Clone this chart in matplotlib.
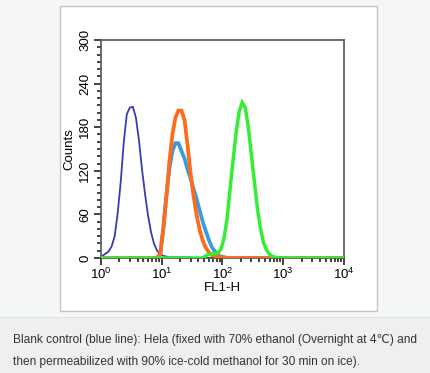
import numpy as np
import matplotlib
matplotlib.use('Agg')
import matplotlib.pyplot as plt
from matplotlib.patches import Rectangle
from matplotlib.ticker import LogLocator, MultipleLocator

plt.rcParams['font.family'] = ['Liberation Sans', 'DejaVu Sans']

# FL1-H histograms: 20 channels per decade over 10^0 .. 10^4 (80 channels).
# each series = first channel + counts from there on (rest of channels are 0)
channels_per_decade = 20
n_channels = 80

blank_start = 0
blank = [3, 6, 9, 16, 30, 62, 105, 160, 198, 207, 208, 193, 162, 122, 88, 58,
         35, 19, 10, 5, 3, 2, 1, 1, 1, 1, 1, 1, 1, 1]

sample_a_start = 19   # light blue
sample_a = [5, 40, 85, 122, 147, 158, 158, 147, 137, 122, 109, 95, 81, 65, 50,
            37, 25, 15, 9, 4, 2, 1]

sample_b_start = 18   # orange
sample_b = [1, 5, 40, 83, 132, 170, 193, 203, 203, 190, 155, 116, 84, 59, 38,
            24, 14, 8, 4, 3, 2, 1, 1]

sample_c_start = 34   # green
sample_c = [3, 5, 6, 6, 7, 12, 27, 54, 95, 135, 173, 202, 214, 207, 180, 142,
            105, 68, 41, 21, 11, 5, 2, 1]

caption_lines = ["Blank control (blue line): Hela (fixed with 70% ethanol (Overnight at 4\u2103) and",
                 "then permeabilized with 90% ice-cold methanol for 30 min on ice)."]

centers = 10 ** ((np.arange(n_channels) + 0.5) / channels_per_decade)
xs = np.concatenate([[1], centers, [1e4]])

W, H = 431, 373
fig = plt.figure(figsize=(W / 100, H / 100), dpi=100)
fig.patch.set_facecolor('#f5f6f6')

def box(x0, y0, x1, y1, **kw):
    fig.add_artist(Rectangle((x0 / W, 1 - y1 / H), (x1 - x0) / W, (y1 - y0) / H,
                             transform=fig.transFigure, zorder=-5, **kw))

box(0, 317, W, H, facecolor='#eef0f0', edgecolor='none')
box(0, 316.5, W, 317.5, facecolor='#dfe2e2', edgecolor='none')
box(60, 6, 377, 311, facecolor='white', edgecolor='#c4c4c4', linewidth=1)

ax = fig.add_axes([101 / W, 1 - 258 / H, (344 - 101) / W, (258 - 40) / H])
ax.set_facecolor('white')

def hist(start, counts, color, lw, z):
    full = np.zeros(n_channels)
    full[start:start + len(counts)] = counts
    ys = np.concatenate([[full[0]], full, [full[-1]]])
    ax.plot(xs, ys, color=color, lw=lw, zorder=z, solid_joinstyle='miter')

hist(blank_start, blank, '#3a3ab8', 1.3, 2)
hist(sample_a_start, sample_a, '#3b9be0', 2.7, 3)
hist(sample_b_start, sample_b, '#ff6a1c', 2.7, 4)
hist(sample_c_start, sample_c, '#33ee33', 2.5, 5)

ax.set_xscale('log')
ax.set_xlim(1, 1e4)
ax.set_ylim(0, 300)
ax.xaxis.set_major_locator(LogLocator(base=10, numticks=10))
ax.xaxis.set_minor_locator(LogLocator(base=10, subs=np.arange(2, 10), numticks=10))
ax.yaxis.set_major_locator(MultipleLocator(60))
ax.yaxis.set_minor_locator(MultipleLocator(10))
ax.tick_params(axis='both', which='major', length=5, width=1.2, labelsize=9.5, color='#222222')
ax.tick_params(axis='both', which='minor', length=3, width=1.2, color='#222222')
ax.tick_params(axis='y', pad=2)
ax.tick_params(axis='x', pad=1)
for lab in ax.get_yticklabels():
    lab.set_rotation(90)
    lab.set_va('center')
for s in ax.spines.values():
    s.set_color('#555555')
    s.set_linewidth(1.2)

ax.set_xlabel('FL1-H', fontsize=9.5, labelpad=0)
ax.set_ylabel('Counts', fontsize=9.5, labelpad=3)

for i, line in enumerate(caption_lines):
    fig.text(13 / W, 1 - (340 + 22 * i) / H, line, fontsize=8.55, color='#333333',
             va='center', ha='left')

fig.savefig('out.png', dpi=100, facecolor=fig.get_facecolor())
